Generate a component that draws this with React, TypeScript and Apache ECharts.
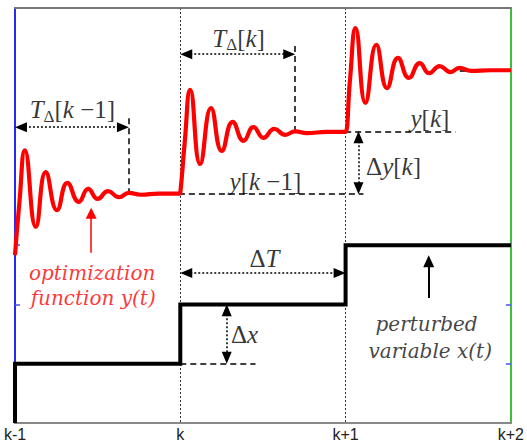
import React, { useEffect, useRef } from 'react';
import * as echarts from 'echarts';

// x axis: time in sampling periods, k-1 .. k+2
const xTickLabels = ['k-1', 'k', 'k+1', 'k+2'];
// y axis ticks (shared scale for x(t) and y(t))
const yTickValues = [1, 2, 3];

// perturbed variable x(t): step signal
const stepX = [0, 0, 1, 1, 2, 2, 3];
const stepY = [0, 1, 1, 2, 2, 3, 3];

// optimization function y(t): damped responses
const responseX = [
  0.0, 0.027, 0.06, 0.126, 0.186, 0.254, 0.317, 0.386, 0.443, 0.5, 0.563, 0.629, 0.689, 0.76, 0.868, 0.994,
  1.0, 1.027, 1.06, 1.12, 1.186, 1.251, 1.317, 1.383, 1.443, 1.503, 1.569, 1.635, 1.695, 1.766, 1.886, 1.994,
  2.0, 2.027, 2.06, 2.12, 2.186, 2.251, 2.317, 2.383, 2.449, 2.506, 2.569, 2.635, 2.689, 2.76, 2.874, 3.0,
];
const responseY = [
  2.83, 3.73, 4.6, 3.31, 4.23, 3.59, 4.05, 3.73, 3.95, 3.78, 3.91, 3.81, 3.88, 3.85, 3.87, 3.87,
  3.88, 4.74, 5.62, 4.37, 5.31, 4.59, 5.08, 4.76, 4.99, 4.81, 4.96, 4.86, 4.92, 4.89, 4.91, 4.91,
  4.91, 5.8, 6.66, 5.4, 6.38, 5.65, 6.16, 5.82, 6.07, 5.9, 6.02, 5.92, 5.99, 5.94, 5.95, 5.95,
];

// dashed guide lines [x1, y1, x2, y2]
const dashedGuides = [
  [0.689, 5.14, 0.689, 3.86],
  [0.689, 3.86, 2.108, 3.86],
  [1.695, 6.36, 1.695, 4.92],
  [1.695, 4.92, 2.665, 4.92],
  [2.63, 5.95, 3.0, 5.95],
  [1.0, 1.0, 1.455, 1.0],
];

// dotted double arrows [x1, y1, x2, y2] (arrow-head centres)
const dottedArrows = [
  [0.036, 4.99, 0.653, 4.99],
  [1.036, 6.22, 1.659, 6.22],
  [2.078, 4.82, 2.078, 3.96],
  [1.036, 2.53, 1.964, 2.53],
  [1.281, 1.9, 1.281, 1.1],
];

// pointer arrows [x1, y1, x2, y2]
const redPointer = [0.461, 2.87, 0.461, 3.54];
const blackPointer = [2.503, 2.11, 2.503, 2.73];

// math annotations
const mathLabelTexts = [
  '{t|T}{s|Δ}{n|[}{t|k}{n| −1]}',
  '{t|T}{s|Δ}{n|[}{t|k}{n|]}',
  '{t|y}{n|[}{t|k}{n| −1]}',
  '{t|y}{n|[}{t|k}{n|]}',
  '{n|Δ}{t|y}{n|[}{t|k}{n|]}',
  '{n|Δ}{t|T}',
  '{n|Δ}{t|x}',
];
const mathLabelX = [0.347, 1.353, 1.515, 2.51, 2.29, 1.509, 1.389];
const mathLabelY = [5.28, 6.49, 4.08, 5.14, 4.33, 2.77, 1.5];

// caption annotations
const redCaptionTexts = ['optimization', 'function y(t)'];
const redCaptionX = [0.467, 0.473];
const redCaptionY = [2.53, 2.11];
const blackCaptionTexts = ['perturbed', 'variable x(t)'];
const blackCaptionX = [2.49, 2.512];
const blackCaptionY = [1.67, 1.21];

const seg = (s: number[]) => [{ coord: [s[0], s[1]] }, { coord: [s[2], s[3]] }];

export default function App() {
  const ref = useRef<HTMLDivElement>(null);

  useEffect(() => {
    if (!ref.current) return;
    const chart = echarts.init(ref.current, undefined, { renderer: 'svg' });

    const mathRich = {
      t: { fontFamily: 'Liberation Serif', fontStyle: 'italic', fontSize: 25, color: '#000', lineHeight: 30 },
      n: { fontFamily: 'Liberation Serif', fontSize: 25, color: '#000', lineHeight: 30 },
      s: { fontFamily: 'Liberation Serif', fontSize: 17, color: '#000', lineHeight: 18, verticalAlign: 'bottom' },
    };

    const captionStyle = (color: string) => ({
      show: true,
      position: 'inside',
      color,
      fontFamily: 'DejaVu Serif',
      fontStyle: 'italic',
      fontSize: 20,
    });

    const labelData = [
      ...mathLabelTexts.map((t, i) => ({
        value: [mathLabelX[i], mathLabelY[i]],
        label: { show: true, position: 'inside', formatter: t, rich: mathRich },
      })),
      ...redCaptionTexts.map((t, i) => ({
        value: [redCaptionX[i], redCaptionY[i]],
        label: { ...captionStyle('#ff0000'), formatter: t },
      })),
      ...blackCaptionTexts.map((t, i) => ({
        value: [blackCaptionX[i], blackCaptionY[i]],
        label: { ...captionStyle('#111'), formatter: t },
      })),
    ];

    const option: any = {
      animation: false,
      grid: { left: 15, right: 11, top: 8, bottom: 19, containLabel: false },
      xAxis: [
        {
          type: 'value',
          min: 0,
          max: 3,
          interval: 1,
          position: 'bottom',
          axisLine: { show: true, onZero: false, lineStyle: { color: '#888', width: 2 } },
          axisTick: { show: false },
          axisLabel: {
            formatter: (v: number) => xTickLabels[Math.round(v)],
            color: '#222',
            fontSize: 16,
            fontFamily: 'Liberation Sans, Arial, sans-serif',
            margin: 3,
          },
          splitLine: { show: true, lineStyle: { color: '#333', type: [2, 2], width: 1 } },
        },
        {
          type: 'value',
          min: 0,
          max: 3,
          interval: 1,
          position: 'top',
          axisLine: { show: true, onZero: false, lineStyle: { color: '#777', width: 2 } },
          axisTick: { show: false },
          axisLabel: { show: false },
          splitLine: { show: false },
        },
      ],
      yAxis: [
        {
          type: 'value',
          min: 0,
          max: 7,
          interval: 1,
          position: 'left',
          axisLine: { show: true, onZero: false, lineStyle: { color: '#2a2aee', width: 2 } },
          axisTick: { show: true, inside: true, length: 5, customValues: yTickValues, lineStyle: { color: '#4a4aff', width: 1.5 } },
          axisLabel: { show: false },
          splitLine: { show: false },
        },
        {
          type: 'value',
          min: 0,
          max: 7,
          interval: 1,
          position: 'right',
          axisLine: { show: true, onZero: false, lineStyle: { color: '#3cc03c', width: 2 } },
          axisTick: { show: true, inside: true, length: 5, customValues: yTickValues, lineStyle: { color: '#4a4aff', width: 1.5 } },
          axisLabel: { show: false },
          splitLine: { show: false },
        },
      ],
      series: [
        {
          name: 'guides',
          type: 'line',
          data: [],
          z: 2,
          silent: true,
          markLine: {
            silent: true,
            symbol: ['none', 'none'],
            label: { show: false },
            lineStyle: { color: '#000', type: [6, 4], width: 1.5 },
            emphasis: { disabled: true },
            data: dashedGuides.map(seg),
          },
        },
        {
          name: 'arrows',
          type: 'line',
          data: [],
          z: 2,
          silent: true,
          markLine: {
            silent: true,
            symbol: ['triangle', 'triangle'],
            symbolSize: [10, 12],
            label: { show: false },
            lineStyle: { color: '#000', type: [2, 2], width: 1.5 },
            itemStyle: { color: '#000' },
            emphasis: { disabled: true },
            data: dottedArrows.map(seg),
          },
        },
        {
          name: 'pointerRed',
          type: 'line',
          data: [],
          z: 2,
          silent: true,
          markLine: {
            silent: true,
            symbol: ['none', 'triangle'],
            symbolSize: [11, 11],
            label: { show: false },
            lineStyle: { color: '#ff0000', type: 'solid', width: 1.5 },
            itemStyle: { color: '#ff0000' },
            emphasis: { disabled: true },
            data: [seg(redPointer)],
          },
        },
        {
          name: 'pointerBlack',
          type: 'line',
          data: [],
          z: 2,
          silent: true,
          markLine: {
            silent: true,
            symbol: ['none', 'triangle'],
            symbolSize: [11, 12],
            label: { show: false },
            lineStyle: { color: '#000', type: 'solid', width: 2 },
            itemStyle: { color: '#000' },
            emphasis: { disabled: true },
            data: [seg(blackPointer)],
          },
        },
        {
          name: 'x(t)',
          type: 'line',
          z: 4,
          symbol: 'none',
          silent: true,
          data: stepX.map((x, i) => [x, stepY[i]]),
          lineStyle: { color: '#000', width: 4, join: 'miter' },
        },
        {
          name: 'y(t)',
          type: 'line',
          z: 5,
          symbol: 'none',
          smooth: 0.5,
          silent: true,
          data: responseX.map((x, i) => [x, responseY[i]]),
          lineStyle: { color: '#ff0000', width: 4.2 },
        },
        {
          name: 'labels',
          type: 'scatter',
          z: 6,
          silent: true,
          symbolSize: 1,
          itemStyle: { color: 'rgba(0,0,0,0)' },
          data: labelData,
        },
      ],
    };

    chart.setOption(option);
    return () => chart.dispose();
  }, []);

  return (
    <div
      ref={ref}
      style={{ position: 'fixed', left: 0, top: 0, width: 527, height: 442, background: '#fff' }}
    />
  );
}
